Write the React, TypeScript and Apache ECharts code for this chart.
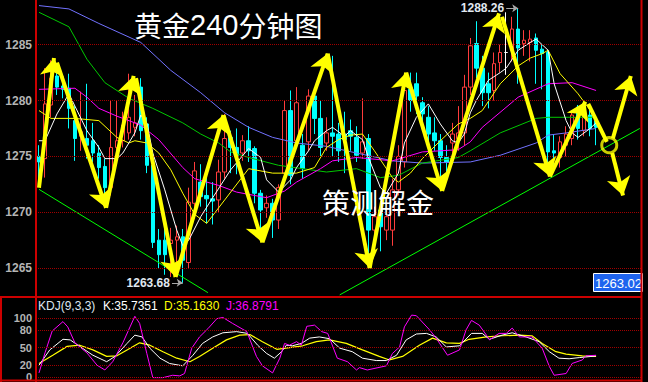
import React, { useEffect, useRef } from "react";
import * as echarts from "echarts";

// ---------- data ----------
const SLOT_COUNT = 101;
const categories: string[] = [];
for (let i = 0; i < SLOT_COUNT; i++) categories.push(String(i));

// [open, close, low, high]
const ohlc: number[][] = [
  [1275.0, 1274.5, 1272.3, 1276.0],
  [1274.8, 1279.7, 1273.1, 1282.9],
  [1279.6, 1282.0, 1278.5, 1283.6],
  [1282.2, 1281.2, 1280.5, 1283.1],
  [1281.3, 1281.0, 1280.2, 1282.0],
  [1281.1, 1279.3, 1277.5, 1282.4],
  [1278.2, 1276.6, 1274.6, 1279.5],
  [1276.8, 1277.2, 1275.5, 1280.8],
  [1276.6, 1276.0, 1274.8, 1281.5],
  [1276.4, 1275.3, 1274.5, 1278.0],
  [1275.3, 1274.0, 1273.0, 1276.0],
  [1274.1, 1272.2, 1270.4, 1274.8],
  [1272.2, 1275.8, 1271.5, 1280.0],
  [1275.8, 1276.4, 1275.2, 1280.0],
  [1276.4, 1277.8, 1275.8, 1279.0],
  [1277.1, 1278.5, 1276.5, 1282.4],
  [1277.6, 1278.0, 1276.8, 1280.5],
  [1281.2, 1277.3, 1276.5, 1282.0],
  [1277.9, 1274.2, 1273.5, 1278.5],
  [1274.2, 1267.3, 1266.8, 1274.8],
  [1267.5, 1266.2, 1265.0, 1268.5],
  [1267.5, 1266.2, 1264.4, 1268.6],
  [1267.2, 1267.5, 1264.2, 1268.6],
  [1267.5, 1267.8, 1265.0, 1268.8],
  [1267.8, 1265.7, 1263.68, 1268.5],
  [1265.5, 1270.9, 1265.0, 1272.2],
  [1270.8, 1273.7, 1270.2, 1274.5],
  [1272.7, 1271.4, 1270.5, 1274.3],
  [1271.5, 1271.2, 1269.0, 1274.0],
  [1271.2, 1271.0, 1268.9, 1272.7],
  [1271.1, 1273.6, 1270.0, 1274.7],
  [1273.6, 1276.6, 1273.0, 1278.8],
  [1276.7, 1275.8, 1273.5, 1277.3],
  [1275.8, 1275.1, 1273.4, 1277.5],
  [1275.3, 1276.4, 1274.6, 1276.9],
  [1276.4, 1275.5, 1274.5, 1277.7],
  [1275.7, 1271.7, 1270.8, 1275.9],
  [1271.7, 1270.2, 1267.5, 1272.0],
  [1270.4, 1270.8, 1269.5, 1271.5],
  [1270.8, 1269.3, 1267.7, 1271.2],
  [1269.3, 1272.2, 1268.5, 1272.5],
  [1273.5, 1279.1, 1273.0, 1280.0],
  [1279.1, 1273.3, 1272.5, 1280.9],
  [1276.4, 1279.8, 1275.8, 1281.2],
  [1276.0, 1273.9, 1273.0, 1277.0],
  [1276.3, 1280.4, 1275.5, 1281.0],
  [1280.4, 1278.4, 1277.0, 1280.8],
  [1278.4, 1275.8, 1275.0, 1280.0],
  [1276.2, 1277.1, 1275.5, 1278.5],
  [1277.1, 1276.8, 1275.0, 1284.0],
  [1277.0, 1275.5, 1274.5, 1278.0],
  [1277.0, 1276.5, 1273.5, 1279.0],
  [1277.3, 1276.8, 1275.5, 1278.3],
  [1276.7, 1275.1, 1274.5, 1277.7],
  [1275.3, 1276.3, 1274.8, 1280.2],
  [1276.6, 1268.4, 1265.9, 1277.0],
  [1268.4, 1269.6, 1267.0, 1270.5],
  [1270.2, 1268.7, 1266.5, 1271.0],
  [1268.4, 1269.6, 1267.5, 1270.2],
  [1268.4, 1272.0, 1267.0, 1273.0],
  [1272.0, 1275.0, 1271.5, 1276.0],
  [1274.5, 1280.9, 1274.0, 1282.0],
  [1281.0, 1280.0, 1279.0, 1282.5],
  [1281.5, 1280.4, 1278.8, 1282.5],
  [1279.8, 1278.8, 1277.5, 1280.3],
  [1278.5, 1277.0, 1276.0, 1279.5],
  [1277.1, 1276.4, 1275.5, 1278.5],
  [1276.4, 1274.9, 1273.0, 1277.0],
  [1274.9, 1274.5, 1273.5, 1276.0],
  [1276.2, 1277.0, 1274.5, 1278.0],
  [1276.6, 1277.1, 1275.5, 1279.5],
  [1277.1, 1281.2, 1276.0, 1282.3],
  [1281.2, 1284.9, 1280.5, 1285.6],
  [1285.1, 1282.9, 1282.0, 1287.1],
  [1282.9, 1280.7, 1279.5, 1284.0],
  [1281.5, 1280.7, 1279.3, 1282.5],
  [1280.9, 1283.3, 1280.0, 1284.3],
  [1283.4, 1284.3, 1282.5, 1285.0],
  [1284.3, 1284.3, 1282.3, 1287.9],
  [1284.5, 1286.4, 1283.5, 1287.5],
  [1286.4, 1284.7, 1281.5, 1288.26],
  [1285.1, 1285.4, 1284.0, 1286.3],
  [1285.2, 1285.5, 1283.5, 1286.3],
  [1285.6, 1284.5, 1281.5, 1286.0],
  [1284.6, 1284.2, 1281.0, 1285.0],
  [1284.3, 1275.4, 1273.5, 1284.5],
  [1275.5, 1275.3, 1274.0, 1277.0],
  [1274.9, 1276.3, 1274.0, 1276.8],
  [1276.0, 1277.0, 1275.0, 1277.7],
  [1276.6, 1278.7, 1276.0, 1278.9],
  [1279.4, 1277.5, 1276.5, 1279.6],
  [1277.3, 1278.7, 1276.8, 1279.6],
  [1278.7, 1277.5, 1276.8, 1279.2],
  [1278.2, 1277.6, 1276.0, 1278.4],
];

const priceTicks = [1265, 1270, 1275, 1280, 1285];
const kdjTicks = [100, 80, 50, 20, 0];

// moving averages, [candle index, price]
const maWhite = [[0,1276.4],[1,1276.4],[3,1278.8],[5,1280.6],[6,1279.5],[8,1277.3],[10,1275.8],[11,1274.8],[13,1274.8],[14,1275.3],[16,1277.1],[17,1278.7],[18,1278.0],[19,1275.3],[21,1272.0],[23,1268.4],[24,1267.0],[25,1267.5],[27,1269.6],[29,1271.3],[32,1273.8],[35,1275.7],[37,1274.9],[38,1272.9],[40,1271.8],[42,1272.9],[43,1274.0],[45,1275.5],[46,1276.4],[48,1277.3],[49,1277.6],[51,1276.8],[52,1277.3],[54,1276.5],[55,1274.9],[57,1272.2],[58,1271.7],[60,1273.5],[61,1276.2],[63,1278.5],[65,1279.7],[67,1277.9],[69,1276.4],[70,1276.2],[71,1277.0],[72,1278.9],[73,1280.0],[75,1281.8],[77,1282.5],[78,1282.9],[80,1284.5],[82,1285.2],[83,1285.5],[85,1284.5],[86,1281.5],[88,1278.2],[89,1277.1],[90,1276.7],[92,1277.5],[93,1278.0]];
const maYellow = [[0,1279.1],[2,1278.4],[6,1278.4],[10,1278.2],[13,1276.7],[15,1276.2],[16,1276.4],[18,1276.2],[20,1275.3],[22,1273.8],[24,1271.7],[26,1269.8],[28,1269.0],[31,1271.1],[35,1273.9],[39,1273.5],[43,1273.5],[46,1274.0],[48,1275.8],[50,1276.5],[52,1276.9],[54,1277.0],[56,1275.5],[59,1273.1],[60,1272.7],[62,1273.5],[64,1274.8],[67,1276.4],[70,1277.9],[72,1278.4],[74,1279.1],[77,1281.5],[80,1283.1],[82,1283.8],[84,1284.2],[85,1284.5],[87,1282.4],[90,1280.6],[93,1278.4]];
const maMagenta = [[0,1281.0],[6,1281.1],[8,1280.3],[10,1279.3],[13,1278.6],[17,1277.8],[20,1276.5],[24,1274.0],[26,1273.0],[30,1272.4],[33,1271.8],[38,1271.3],[41,1271.9],[43,1272.7],[47,1273.9],[49,1274.6],[53,1274.9],[59,1274.6],[64,1275.4],[70,1275.6],[72,1276.3],[74,1277.6],[80,1280.3],[85,1281.5],[89,1281.6],[93,1280.9]];
const maGreen = [[0,1287.9],[5,1286.6],[8,1283.7],[11,1281.6],[15,1280.2],[19,1279.3],[24,1278.0],[27,1277.0],[30,1276.2],[32,1275.4],[35,1274.9],[40,1274.2],[48,1273.6],[53,1273.9],[57,1273.1],[60,1273.3],[64,1274.4],[70,1274.9],[72,1275.5],[77,1277.1],[83,1278.4],[85,1278.5],[93,1278.5]];
const maBlue = [[0,1288.5],[5,1288.2],[10,1286.9],[17,1285.2],[22,1282.7],[27,1280.7],[31,1278.9],[35,1277.6],[39,1276.7],[43,1276.2],[48,1275.9],[53,1275.3],[59,1274.6],[64,1274.4],[72,1274.5],[77,1275.1],[83,1276.2],[85,1276.9],[88,1277.1],[93,1277.5]];

// trend lines
const trendDown = [[0,1272.05],[28.2,1262.8]];
const trendUp = [[50.2,1262.6],[100.3,1277.5]];

// hand-drawn yellow arrows
const arrowSegments = [
  [[0,1272.2],[2.5,1283.8]],
  [[3,1283.4],[11.2,1270.4]],
  [[11.2,1270.4],[15.8,1282.2]],
  [[16.2,1282.0],[22.8,1264.2]],
  [[22.8,1264.2],[30.8,1278.7]],
  [[30.8,1278.7],[37.3,1267.3]],
  [[37.3,1267.3],[48.2,1284.2]],
  [[48.2,1284.2],[55.2,1265.0]],
  [[55.2,1265.0],[61.3,1282.5]],
  [[61.3,1282.5],[67.3,1271.9]],
  [[67.3,1271.9],[76.8,1287.8]],
  [[77.3,1287.5],[85.3,1273.2]],
  [[85.3,1273.2],[91.2,1279.9]],
  [[95.8,1276.6],[98.8,1282.2]],
  [[95.7,1275.3],[97.5,1271.5]],
];
const plainSegments = [[[91.7,1279.7],[94.8,1276.3]]];
const circleMark = [[95.2,1276.0]];

const highMark = { from: 78, to: 80, price: 1288.26 };
const lowMark = { from: 22.2, to: 24, price: 1263.68 };
const lastPriceTag = "1263.02";

// KDJ, [candle index, value]
const kdjK = [[0,20],[1.8,46],[4,64],[5.2,63],[6.5,54],[9,37],[11.3,26],[12.7,35],[14.7,57],[16,71],[17.2,68],[18.5,49],[20.2,32],[21.8,23],[24,19],[25.7,37],[27.3,57],[29,68],[30.7,75],[33,77],[34.8,74],[36.5,54],[38,40],[39.3,32],[40.5,43],[41.3,54],[42.3,53],[43.8,57],[45.2,66],[46.8,68],[48.5,65],[50.2,49],[52.3,43],[54,32],[56.3,28],[58,28],[59.7,37],[61.3,63],[63,73],[64.7,74],[66.3,68],[68,51],[70.2,53],[72.2,74],[74,74],[75.2,64],[77.3,71],[79,75],[81.3,68],[83.5,60],[85.2,43],[86.8,32],[88.5,31],[90.2,33],[93,35.7351]];
const kdjD = [[0,23],[2.3,37],[4.7,52],[6.8,54],[9,46],[11.3,35],[13,36],[14.7,46],[16.8,58],[18.5,54],[20.7,43],[23,32],[25.2,26],[26.8,35],[29,49],[31.3,63],[33.5,71],[35.2,72],[37.3,60],[39.7,47],[41.8,50],[44,53],[46.3,60],[48.5,63],[51.3,57],[54,46],[56.8,35],[58.5,29],[60.7,35],[63.5,54],[65.7,66],[68,58],[70.2,57],[71.8,64],[74.7,68],[77.3,70],[80.2,71],[82.3,70],[84,57],[86.3,43],[88,39],[90.7,36],[93,35.163]];
const kdjJ = [[0,7],[1,41],[2.2,78],[4,94],[4.8,85],[6,58],[8,41],[9.7,20],[11,12],[12.3,26],[14,58],[15.2,85],[16,103],[16.8,91],[18,40],[19,-1],[20.7,-1],[22.3,3],[23.5,2],[24.3,6],[25.5,49],[26.8,68],[28.2,82],[29.7,99],[30.7,101],[32.3,91],[34.7,77],[36.3,35],[37.3,19],[39,7],[40.2,32],[41,57],[41.8,54],[43,60],[43.8,54],[44.7,86],[46,88],[47.2,77],[48.2,74],[49.8,32],[51.5,26],[53,12],[53.5,16],[54.8,12],[58,19],[59,40],[60.2,51],[61,85],[62.2,105],[63,104],[65.2,80],[66.3,66],[68.2,37],[70.2,46],[71.3,80],[72.2,96],[73.5,88],[74.7,71],[75.2,63],[76.8,74],[78,74],[79,83],[80.2,68],[82.3,68],[84,49],[85.2,18],[86,3],[88,6],[89,23],[90.7,29],[91.3,36],[93,36.8791]];

const kdjLegend = [
  { text: "KDJ(9,3,3)", color: "#dde6f0", x: 38 },
  { text: "K:35.7351", color: "#ffffff", x: 103 },
  { text: "D:35.1630", color: "#ffff00", x: 164 },
  { text: "J:36.8791", color: "#ff00ff", x: 226 },
];

const RED = "#cc0000";
const GRID_RED = "#a00000";
const LABEL_GRAY = "#b4b4b4";
const FONT = "Liberation Sans, Arial, sans-serif";

export default function App() {
  const ref = useRef<HTMLDivElement>(null);

  useEffect(() => {
    const chart = echarts.init(ref.current as HTMLDivElement, null, { renderer: "svg" });

    const maSeries = (data: number[][], color: string, width = 1) => ({
      type: "line",
      xAxisIndex: 1,
      yAxisIndex: 0,
      data,
      symbol: "none",
      showSymbol: false,
      lineStyle: { color, width },
      z: 3,
      silent: true,
    });

    const markArrow = (m: { from: number; to: number; price: number }) => [
      { coord: [m.from, m.price], label: { formatter: m.price.toFixed(2) } },
      { coord: [m.to, m.price] },
    ];

    const option: any = {
      animation: false,
      backgroundColor: "#000000",
      grid: [
        { left: 36, top: 0, width: 605, height: 296 },
        { left: 36, top: 298, width: 605, height: 82 },
      ],
      xAxis: [
        { type: "category", data: categories, gridIndex: 0, boundaryGap: true, show: false },
        { type: "value", gridIndex: 0, min: -0.5, max: 100.5, show: false },
        { type: "value", gridIndex: 1, min: -0.5, max: 100.5, show: false },
      ],
      yAxis: [
        {
          type: "value",
          gridIndex: 0,
          min: 1262.5,
          max: 1289,
          interval: 2.5,
          axisLine: { show: false },
          axisTick: { show: false },
          splitLine: { show: false },
          axisLabel: {
            color: LABEL_GRAY,
            fontWeight: "bold",
            fontSize: 12,
            fontFamily: FONT,
            margin: 4,
            formatter: (v: number) => (priceTicks.indexOf(v) >= 0 ? String(v) : ""),
          },
        },
        {
          type: "value",
          gridIndex: 1,
          min: -5,
          max: 134,
          axisLine: { show: false },
          axisTick: { show: false },
          splitLine: { show: false },
          axisLabel: { show: false },
        },
      ],
      series: [
        {
          type: "candlestick",
          xAxisIndex: 0,
          yAxisIndex: 0,
          data: ohlc,
          barWidth: 4,
          z: 2,
          itemStyle: {
            color: "#000000",
            color0: "#00ffff",
            borderColor: "#ff3c3c",
            borderColor0: "#00ffff",
            borderColorDoji: "#ffffff",
            borderWidth: 1,
          },
          markLine: {
            silent: true,
            symbol: "none",
            label: { show: false },
            lineStyle: { color: GRID_RED, type: "dotted", width: 1 },
            data: priceTicks.map((v) => ({ yAxis: v })),
          },
        },
        maSeries(maBlue, "#7272ff"),
        maSeries(maGreen, "#00c800"),
        maSeries(maMagenta, "#ff00ff"),
        maSeries(maYellow, "#ffff00"),
        maSeries(maWhite, "#ffffff"),
        {
          type: "line",
          xAxisIndex: 1,
          yAxisIndex: 0,
          data: trendDown,
          symbol: "none",
          lineStyle: { color: "#00ff00", width: 1 },
          z: 4,
          silent: true,
          markLine: {
            silent: true,
            symbol: ["none", "arrow"],
            symbolSize: 6,
            lineStyle: { color: "#a8a8a8", type: "solid", width: 1 },
            label: {
              show: true,
              position: "start",
              distance: 2,
              color: "#e0e8f0",
              fontWeight: "bold",
              fontSize: 12,
              fontFamily: FONT,
            },
            data: [markArrow(highMark), markArrow(lowMark)],
          },
        },
        {
          type: "line",
          xAxisIndex: 1,
          yAxisIndex: 0,
          data: trendUp,
          symbol: "none",
          lineStyle: { color: "#00ff00", width: 1 },
          z: 4,
          silent: true,
        },
        {
          type: "lines",
          coordinateSystem: "cartesian2d",
          xAxisIndex: 1,
          yAxisIndex: 0,
          symbol: ["none", "arrow"],
          symbolSize: 18,
          lineStyle: { color: "#ffff00", width: 4, opacity: 1 },
          data: arrowSegments.map((s) => ({ coords: s })),
          z: 10,
          silent: true,
        },
        {
          type: "lines",
          coordinateSystem: "cartesian2d",
          xAxisIndex: 1,
          yAxisIndex: 0,
          symbol: "none",
          lineStyle: { color: "#ffff00", width: 4, opacity: 1 },
          data: plainSegments.map((s) => ({ coords: s })),
          z: 10,
          silent: true,
        },
        {
          type: "scatter",
          xAxisIndex: 1,
          yAxisIndex: 0,
          data: circleMark,
          symbol: "circle",
          symbolSize: 15,
          itemStyle: { color: "rgba(0,0,0,0)", borderColor: "#ffff00", borderWidth: 3 },
          z: 11,
          silent: true,
        },
        {
          type: "line",
          xAxisIndex: 2,
          yAxisIndex: 1,
          data: kdjD,
          symbol: "none",
          lineStyle: { color: "#ffff00", width: 1.2 },
          silent: true,
        },
        {
          type: "line",
          xAxisIndex: 2,
          yAxisIndex: 1,
          data: kdjK,
          symbol: "none",
          lineStyle: { color: "#ffffff", width: 1 },
          silent: true,
          markLine: {
            silent: true,
            symbol: "none",
            lineStyle: { color: GRID_RED, type: "dotted", width: 1 },
            label: {
              show: true,
              position: "start",
              distance: 4,
              color: LABEL_GRAY,
              fontWeight: "bold",
              fontSize: 11,
              fontFamily: FONT,
              formatter: (p: any) => String(p.value),
            },
            data: kdjTicks.map((v) => ({ yAxis: v })),
          },
        },
        {
          type: "line",
          xAxisIndex: 2,
          yAxisIndex: 1,
          data: kdjJ,
          symbol: "none",
          lineStyle: { color: "#ff00ff", width: 1 },
          silent: true,
        },
      ],
      graphic: [
        // frame
        { type: "line", z: 50, shape: { x1: 36, y1: 0, x2: 36, y2: 382 }, style: { stroke: RED, lineWidth: 2 } },
        { type: "line", z: 50, shape: { x1: 0, y1: 297, x2: 642, y2: 297 }, style: { stroke: RED, lineWidth: 2 } },
        { type: "line", z: 50, shape: { x1: 0, y1: 380.5, x2: 642, y2: 380.5 }, style: { stroke: RED, lineWidth: 2 } },
        { type: "line", z: 50, shape: { x1: 641.5, y1: 0, x2: 641.5, y2: 382 }, style: { stroke: RED, lineWidth: 2 } },
        { type: "line", z: 50, shape: { x1: 1, y1: 297, x2: 1, y2: 382 }, style: { stroke: RED, lineWidth: 2 } },
        // titles
        {
          type: "text",
          z: 100,
          left: 134,
          top: 10,
          style: {
            text: "{a|黄金}{b|240}{a|分钟图}",
            rich: {
              a: { fontSize: 28, fontFamily: "Noto Sans CJK SC", fill: "#ffffff" },
              b: { fontSize: 29, fontFamily: FONT, fill: "#ffffff" },
            },
          },
        },
        {
          type: "text",
          z: 100,
          left: 322,
          top: 188,
          style: { text: "策测解金", fontSize: 28, fontFamily: "Noto Sans CJK SC", fill: "#ffffff" },
        },
        ...kdjLegend.map((t) => ({
          type: "text",
          z: 100,
          left: t.x,
          top: 300,
          style: { text: t.text, fontSize: 12, fontFamily: FONT, fill: t.color },
        })),
        {
          type: "group",
          z: 100,
          left: 593,
          top: 273,
          children: [
            { type: "rect", shape: { x: 0, y: 0, width: 49, height: 18 }, style: { fill: "#1e64ee", stroke: "#ffffff", lineWidth: 1 } },
            {
              type: "text",
              x: 25,
              y: 9.5,
              style: { text: lastPriceTag, fontSize: 13, fontFamily: FONT, fill: "#ffffff", textAlign: "center", textVerticalAlign: "middle" },
            },
          ],
        },
      ],
    };

    chart.setOption(option);
    return () => chart.dispose();
  }, []);

  return (
    <div
      ref={ref}
      style={{ position: "fixed", left: 0, top: 0, width: 648, height: 382, background: "#000" }}
    />
  );
}
